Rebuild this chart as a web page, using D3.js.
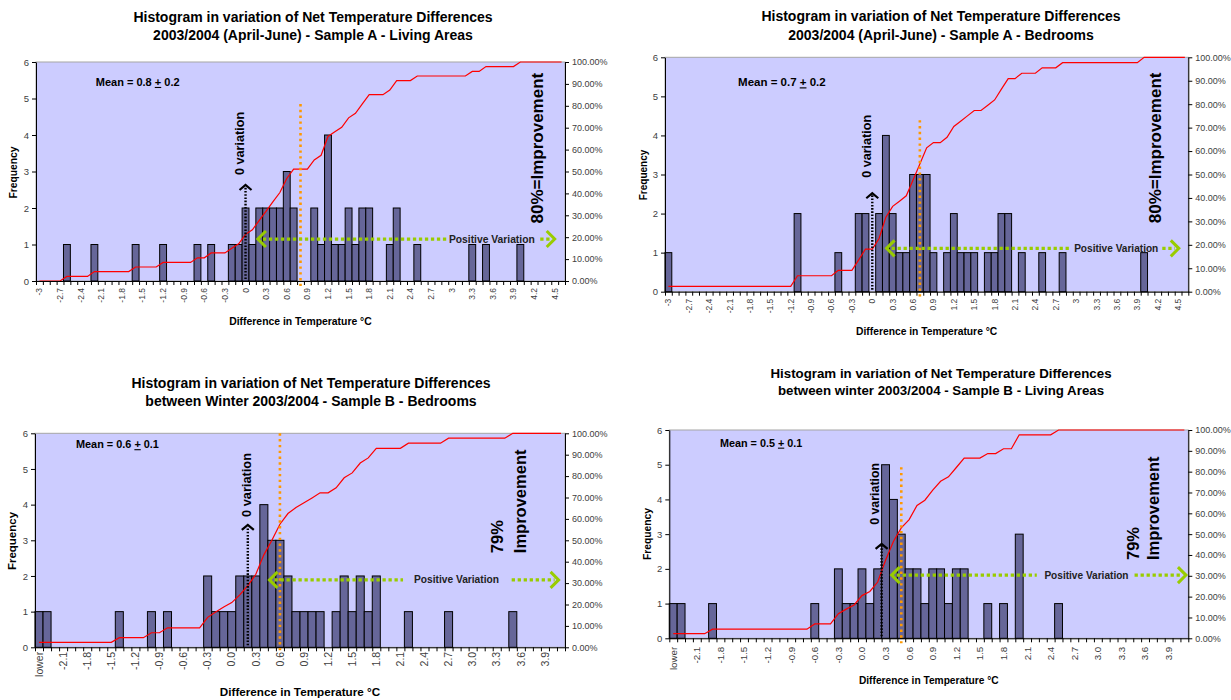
<!DOCTYPE html>
<html>
<head>
<meta charset="utf-8">
<script src="https://cdn.jsdelivr.net/npm/d3@7"></script>
<style>
  body { margin: 0; background: #fff; }
  svg { display: block; font-family: "Liberation Sans", Arial, sans-serif; }
</style>
</head>
<body>
<svg id="chart" width="1231" height="700"></svg>
<script>
// ---- Bins (0.1 °C classes) and visible tick labels ----
const binsSampleA = ["-3","-2.9","-2.8","-2.7","-2.6","-2.5","-2.4","-2.3","-2.2","-2.1",
  "-2","-1.9","-1.8","-1.7","-1.6","-1.5","-1.4","-1.3","-1.2","-1.1",
  "-1","-0.9","-0.8","-0.7","-0.6","-0.5","-0.4","-0.3","-0.2","-0.1",
  "0","0.1","0.2","0.3","0.4","0.5","0.6","0.7","0.8","0.9",
  "1","1.1","1.2","1.3","1.4","1.5","1.6","1.7","1.8","1.9",
  "2","2.1","2.2","2.3","2.4","2.5","2.6","2.7","2.8","2.9",
  "3","3.1","3.2","3.3","3.4","3.5","3.6","3.7","3.8","3.9",
  "4","4.1","4.2","4.3","4.4","4.5","4.6"];
const ticksSampleA = ["-3","-2.7","-2.4","-2.1","-1.8","-1.5","-1.2","-0.9","-0.6","-0.3",
  "0","0.3","0.6","0.9","1.2","1.5","1.8","2.1","2.4","2.7","3","3.3","3.6","3.9","4.2","4.5"];

const binsSampleB = ["lower","-2.3","-2.2","-2.1","-2.0","-1.9","-1.8","-1.7","-1.6","-1.5",
  "-1.4","-1.3","-1.2","-1.1","-1.0","-0.9","-0.8","-0.7","-0.6","-0.5",
  "-0.4","-0.3","-0.2","-0.1","0.0","0.1","0.2","0.3","0.4","0.5",
  "0.6","0.7","0.8","0.9","1.0","1.1","1.2","1.3","1.4","1.5",
  "1.6","1.7","1.8","1.9","2.0","2.1","2.2","2.3","2.4","2.5",
  "2.6","2.7","2.8","2.9","3.0","3.1","3.2","3.3","3.4","3.5",
  "3.6","3.7","3.8","3.9","4.0","4.1"];
const ticksSampleB = ["lower","-2.1","-1.8","-1.5","-1.2","-0.9","-0.6","-0.3","0.0","0.3",
  "0.6","0.9","1.2","1.5","1.8","2.1","2.4","2.7","3.0","3.3","3.6","3.9"];

const freqTicks = [0, 1, 2, 3, 4, 5, 6];
const pctTicks = [0, 10, 20, 30, 40, 50, 60, 70, 80, 90, 100];

// ---- Sample A, living areas (April-June) ----
const freqLivingA = [0,0,0,0,1,0,0,0,1,0, 0,0,0,0,1,0,0,0,1,0, 0,0,0,1,0,1,0,0,1,1,
  2,1,2,2,2,2,3,2,0,0, 2,1,4,1,1,2,1,2,2,0, 0,1,2,0,0,1,0,0,0,0,
  0,0,0,1,0,1,0,0,0,0, 1,0,0,0,0,0,0];
const cumLivingA = [0,0,0,0,2.1,2.1,2.1,2.1,4.3,4.3, 4.3,4.3,4.3,4.3,6.4,6.4,6.4,6.4,8.5,8.5,
  8.5,8.5,8.5,10.6,10.6,12.8,12.8,12.8,14.9,17.0, 21.3,23.4,27.7,31.9,36.2,40.4,46.8,51.1,51.1,51.1,
  55.3,57.4,66.0,68.1,70.2,74.5,76.6,80.9,85.1,85.1, 85.1,87.2,91.5,91.5,91.5,93.6,93.6,93.6,93.6,93.6,
  93.6,93.6,93.6,95.7,95.7,97.9,97.9,97.9,97.9,97.9, 100,100,100,100,100,100,100];

// ---- Sample A, bedrooms (April-June) ----
const freqBedA = [1,0,0,0,0,0,0,0,0,0, 0,0,0,0,0,0,0,0,0,2, 0,0,0,0,0,1,0,0,2,2,
  0,2,4,2,1,1,3,3,3,1, 0,1,2,1,1,1,0,1,1,2, 2,0,1,0,0,1,0,0,1,0,
  0,0,0,0,0,0,0,0,0,0, 1,0,0,0,0,0,0];
const cumBedA = [2.3,2.3,2.3,2.3,2.3,2.3,2.3,2.3,2.3,2.3, 2.3,2.3,2.3,2.3,2.3,2.3,2.3,2.3,2.3,6.8,
  6.8,6.8,6.8,6.8,6.8,9.1,9.1,9.1,13.6,18.2, 18.2,22.7,31.8,36.4,38.6,40.9,47.7,54.5,61.4,63.6,
  63.6,65.9,70.5,72.7,75.0,77.3,77.3,79.5,81.8,86.4, 90.9,90.9,93.2,93.2,93.2,95.5,95.5,95.5,97.7,97.7,
  97.7,97.7,97.7,97.7,97.7,97.7,97.7,97.7,97.7,97.7, 100,100,100,100,100,100,100];

// ---- Sample B, bedrooms (winter) ----
const freqBedB = [1,1,0,0,0,0,0,0,0,0, 1,0,0,0,1,0,1,0,0,0, 0,2,1,1,1,2,2,2,4,3,
  3,2,1,1,1,1,0,1,2,1, 2,1,2,0,0,0,1,0,0,0, 0,1,0,0,0,0,0,0,0,1,
  0,0,0,0,0,0];
const cumBedB = [2.3,2.3,2.3,2.3,2.3,2.3,2.3,2.3,2.3,2.3, 4.5,4.5,4.5,4.5,6.8,6.8,9.1,9.1,9.1,9.1,
  9.1,14.0,16.5,18.8,20.9,24.5,28.8,34.1,43.2,50.0, 57.5,62.5,65.3,67.5,69.8,72.2,72.2,74.5,79.2,81.5,
  86.1,88.5,93.0,93.0,93.0,93.0,95.4,95.4,95.4,95.4, 95.4,97.7,97.7,97.7,97.7,97.7,97.7,97.7,97.7,100,
  100,100,100,100,100,100];

// ---- Sample B, living areas (winter) ----
const freqLivingB = [1,1,0,0,0,1,0,0,0,0, 0,0,0,0,0,0,0,0,1,0, 0,2,1,1,2,1,2,5,4,3,
  2,2,1,2,2,1,2,2,0,0, 1,0,1,0,3,0,0,0,0,1, 0,0,0,0,0,0,0,0,0,0,
  0,0,0,0,0,0];
const cumLivingB = [2.2,2.2,2.2,2.2,2.2,4.4,4.4,4.4,4.4,4.4, 4.4,4.4,4.4,4.4,4.4,4.4,4.4,4.4,6.9,6.9,
  6.9,11.8,14.0,16.0,20.5,22.5,27.0,37.5,46.5,53.0, 57.0,63.8,66.3,71.1,75.4,77.5,82.0,86.5,86.5,86.5,
  88.7,88.7,91.0,91.0,97.7,97.7,97.7,97.7,97.7,100, 100,100,100,100,100,100,100,100,100,100,
  100,100,100,100,100,100];

// Mean and spread stated on each histogram
const means = [0.8, 0.7, 0.6, 0.5];
const spreads = [0.2, 0.2, 0.1, 0.1];
const improvementLabels = [["80%=Improvement"], ["80%=Improvement"], ["79%", "Improvement"], ["79%", "Improvement"]];
// where the "0 variation" arrow sits on the temperature axis
const zeroArrowAt = [0, 0, 0.2, 0.25];

const svg = d3.select("#chart");

const panels = [
  { bins: binsSampleA, ticks: ticksSampleA, freq: freqLivingA, cum: cumLivingA, origin: -3,
    title: ["Histogram in variation of Net Temperature Differences", "2003/2004 (April-June) - Sample A - Living Areas"],
    titleX: 313, titleY: [17, 35], titleSize: 14,
    frame: { left: 36, top: 62, right: 565, bottom: 281 },
    freqLabel: { x: 13, y: 172.5, size: 10.3 }, xTitle: { y: 321.7, size: 10.4 },
    tickOffset: 7, tickSize: 8.5,
    meanText: { v: -2.18, f: 5.45, size: 11 },
    zero: { top: 2.63, tv: -0.09, tf: 3.77, size: 12.6 },
    meanTop: 4.85,
    green: { f: 1.15, from: 0.18, to: 4.5, tv: 2.96, gaps: [2.5, 5.5], size: 10.3 },
    impr: { v: 4.24, f: 3.64, size: 17, anchor: "middle", lineGap: 1.2 } },
  { bins: binsSampleA, ticks: ticksSampleA, freq: freqBedA, cum: cumBedA, origin: -3,
    title: ["Histogram in variation of Net Temperature Differences", "2003/2004 (April-June) - Sample A - Bedrooms"],
    titleX: 941, titleY: [16, 35], titleSize: 14,
    frame: { left: 665, top: 57.3, right: 1188.3, bottom: 291.7 },
    freqLabel: { x: 643.3, y: 175, size: 10 }, xTitle: { y: 331.7, size: 10.3 },
    tickOffset: 7, tickSize: 8.5,
    meanText: { v: -1.975, f: 5.36, size: 11.5 },
    zero: { top: 2.52, tv: -0.08, tf: 3.72, size: 12.6 },
    meanTop: 4.39,
    green: { f: 1.11, from: 0.21, to: 4.51, tv: 2.97, gaps: [4, 4], size: 10.1 },
    impr: { v: 4.16, f: 3.68, size: 17, anchor: "middle", lineGap: 1.2 } },
  { bins: binsSampleB, ticks: ticksSampleB, freq: freqBedB, cum: cumBedB, origin: -2.4,
    title: ["Histogram in variation of Net Temperature Differences", "between Winter 2003/2004 - Sample B - Bedrooms"],
    titleX: 311, titleY: [383, 401], titleSize: 14,
    frame: { left: 35, top: 433.3, right: 565, bottom: 647.3 },
    freqLabel: { x: 12.3, y: 541, size: 11.5 }, xTitle: { y: 691.7, size: 11.7 },
    tickOffset: 4.5, tickSize: 10.5,
    meanText: { v: -1.94, f: 5.69, size: 10.9 },
    zero: { top: 3.43, tv: 0.18, tf: 4.55, size: 12.8 },
    meanTop: 6,
    green: { f: 1.89, from: 0.47, to: 4.07, tv: 2.27, gaps: [11, 12.7], size: 10.2 },
    impr: { v: 3.31, f: 2.64, size: 16.5, anchor: "start", lineGap: 1.375 } },
  { bins: binsSampleB, ticks: ticksSampleB, freq: freqLivingB, cum: cumLivingB, origin: -2.4,
    title: ["Histogram in variation of Net Temperature Differences", "between winter 2003/2004 - Sample B - Living Areas"],
    titleX: 941, titleY: [373, 390], titleSize: 13.3,
    frame: { left: 669.3, top: 430, right: 1188.3, bottom: 638.3 },
    freqLabel: { x: 647.3, y: 534, size: 10.3 }, xTitle: { y: 680, size: 10.2 },
    tickOffset: 8.4, tickSize: 9.8,
    meanText: { v: -1.805, f: 5.63, size: 10.8 },
    zero: { top: 2.72, tv: 0.157, tf: 4.16, size: 12.4 },
    meanTop: 4.93,
    green: { f: 1.82, from: 0.378, to: 4.12, tv: 2.32, gaps: [7.6, 6], size: 10.1 },
    impr: { v: 3.45, f: 2.255, size: 16.5, anchor: "start", lineGap: 1.21 } }
];

const GREEN = "#99cc00", ORANGE = "#ff9900";

function drawPanel(p, k) {
  const g = svg.append("g");
  const { left, top, right, bottom } = p.frame;
  const x = d3.scaleBand().domain(p.bins).range([left, right]).padding(0);
  const bw = x.bandwidth();
  const edge = d3.scaleLinear().domain([0, p.bins.length]).range([left, right]);
  const yF = d3.scaleLinear().domain([0, 6]).range([bottom, top]);
  const yP = d3.scaleLinear().domain([0, 100]).range([bottom, top]);
  // temperature value -> horizontal position on the category axis
  const xAt = v => edge((v - p.origin) / 0.1 + 0.5);

  // plot area
  g.append("rect").attr("x", left).attr("y", top)
    .attr("width", right - left).attr("height", bottom - top)
    .attr("fill", "#ccccff").attr("stroke", "#a6a6a6").attr("stroke-width", 1);

  // frequency bars
  const rows = p.bins.map((b, i) => ({ b, f: p.freq[i] })).filter(d => d.f > 0);
  g.append("g").selectAll("rect").data(rows).join("rect")
    .attr("x", d => x(d.b)).attr("y", d => yF(d.f))
    .attr("width", bw).attr("height", d => yF(0) - yF(d.f))
    .attr("fill", "#666699").attr("stroke", "#000").attr("stroke-width", 1);

  // cumulative percentage
  const line = d3.line().x((d, i) => x(p.bins[i]) + bw / 2).y(d => yP(d));
  g.append("path").datum(p.cum).attr("d", line)
    .attr("fill", "none").attr("stroke", "#ff0000").attr("stroke-width", 1.2);

  // axes
  const styleAxis = (sel, size) => {
    sel.select(".domain").attr("stroke", "#000");
    sel.selectAll(".tick line").attr("stroke", "#000");
    sel.selectAll("text").attr("fill", "#404040")
      .style("font-family", '"Liberation Sans", Arial, sans-serif').style("font-size", size + "px");
  };
  g.append("g").attr("transform", `translate(${left},0)`)
    .call(d3.axisLeft(yF).tickValues(freqTicks).tickFormat(d3.format("d")).tickSize(4).tickSizeOuter(0).tickPadding(3))
    .call(s => styleAxis(s, 9.5));
  g.append("g").attr("transform", `translate(${right},0)`)
    .call(d3.axisRight(yP).tickValues(pctTicks).tickFormat(d => d.toFixed(2) + "%").tickSize(4).tickSizeOuter(0).tickPadding(3))
    .call(s => styleAxis(s, 9));
  // boundary ticks between classes
  g.append("g").attr("transform", `translate(0,${bottom})`)
    .call(d3.axisBottom(edge).tickValues(d3.range(p.bins.length + 1)).tickFormat("").tickSize(4).tickSizeOuter(0))
    .call(s => styleAxis(s, 9));
  // rotated class labels
  g.append("g").attr("transform", `translate(0,${bottom})`)
    .call(d3.axisBottom(x).tickValues(p.ticks).tickSize(0).tickPadding(0))
    .call(s => {
      s.select(".domain").remove();
      styleAxis(s, p.tickSize);
      s.selectAll("text").attr("transform", "rotate(-90)")
        .attr("x", -p.tickOffset).attr("y", 0).attr("dy", "0.35em")
        .style("text-anchor", "end");
    });

  // titles
  p.title.forEach((t, i) => {
    g.append("text").attr("x", p.titleX).attr("y", p.titleY[i]).attr("dy", "0.35em")
      .attr("text-anchor", "middle").attr("font-weight", "bold")
      .attr("font-size", p.titleSize).attr("fill", "#000").text(t);
  });
  g.append("text").attr("transform", `translate(${p.freqLabel.x},${p.freqLabel.y}) rotate(-90)`)
    .attr("dy", "0.35em").attr("text-anchor", "middle").attr("font-weight", "bold")
    .attr("font-size", p.freqLabel.size).text("Frequency");
  g.append("text").attr("x", (left + right) / 2).attr("y", p.xTitle.y).attr("dy", "0.35em")
    .attr("text-anchor", "middle").attr("font-weight", "bold")
    .attr("font-size", p.xTitle.size).text("Difference in Temperature °C");

  // mean label
  const mt = g.append("text").attr("x", xAt(p.meanText.v)).attr("y", yF(p.meanText.f))
    .attr("dy", "0.35em").attr("font-weight", "bold").attr("font-size", p.meanText.size)
    .style("white-space", "pre");
  mt.append("tspan").text(`Mean = ${means[k]} `);
  mt.append("tspan").style("text-decoration", "underline").text("+");
  mt.append("tspan").text(` ${spreads[k]}`);

  // mean line
  const mx = xAt(means[k]);
  g.append("line").attr("x1", mx).attr("x2", mx).attr("y1", yF(p.meanTop)).attr("y2", bottom + 5)
    .attr("stroke", ORANGE).attr("stroke-width", 2.6).attr("stroke-dasharray", "2.4,3.4");

  // "0 variation" arrow
  const zx = xAt(zeroArrowAt[k]);
  const zTop = yF(p.zero.top);
  g.append("line").attr("x1", zx).attr("x2", zx).attr("y1", bottom - 2).attr("y2", zTop + 2)
    .attr("stroke", "#000").attr("stroke-width", 2.4).attr("stroke-dasharray", "1.6,1.6");
  g.append("path").attr("d", `M${zx - 6},${zTop + 5}L${zx},${zTop}L${zx + 6},${zTop + 5}`)
    .attr("fill", "none").attr("stroke", "#000").attr("stroke-width", 2.2);
  g.append("text").attr("transform", `translate(${xAt(p.zero.tv)},${yF(p.zero.tf)}) rotate(-90)`)
    .attr("dy", "0.35em").attr("text-anchor", "middle").attr("font-weight", "bold")
    .attr("font-size", p.zero.size).text("0 variation");

  // positive variation arrow
  const gy = yF(p.green.f);
  const gl = xAt(p.green.from), gr = xAt(p.green.to);
  const pv = g.append("text").attr("x", xAt(p.green.tv)).attr("y", gy).attr("dy", "0.35em")
    .attr("font-weight", "bold").attr("font-size", p.green.size).attr("fill", "#222")
    .text("Positive Variation");
  const tLen = pv.node().getComputedTextLength();
  const t0 = xAt(p.green.tv) - p.green.gaps[0], t1 = xAt(p.green.tv) + tLen + p.green.gaps[1];
  const dotted = (a, b) => g.append("line").attr("x1", a).attr("x2", b).attr("y1", gy).attr("y2", gy)
    .attr("stroke", GREEN).attr("stroke-width", 3.3).attr("stroke-dasharray", "3.3,2.7");
  dotted(gl + 5, t0);
  dotted(t1, gr - 4);
  g.append("path").attr("d", `M${gl + 8},${gy - 8}L${gl},${gy}L${gl + 8},${gy + 8}`)
    .attr("fill", "none").attr("stroke", GREEN).attr("stroke-width", 3);
  g.append("path").attr("d", `M${gr - 8},${gy - 8}L${gr},${gy}L${gr - 8},${gy + 8}`)
    .attr("fill", "none").attr("stroke", GREEN).attr("stroke-width", 3);

  // improvement note
  const it = g.append("text").attr("transform", `translate(${xAt(p.impr.v)},${yF(p.impr.f)}) rotate(-90)`)
    .attr("text-anchor", p.impr.anchor).attr("font-weight", "bold").attr("font-size", p.impr.size);
  improvementLabels[k].forEach((t, i) => {
    it.append("tspan").attr("x", 0).attr("dy", i === 0 ? "0.35em" : p.impr.lineGap + "em").text(t);
  });
}

panels.forEach(drawPanel);
</script>
</body>
</html>
